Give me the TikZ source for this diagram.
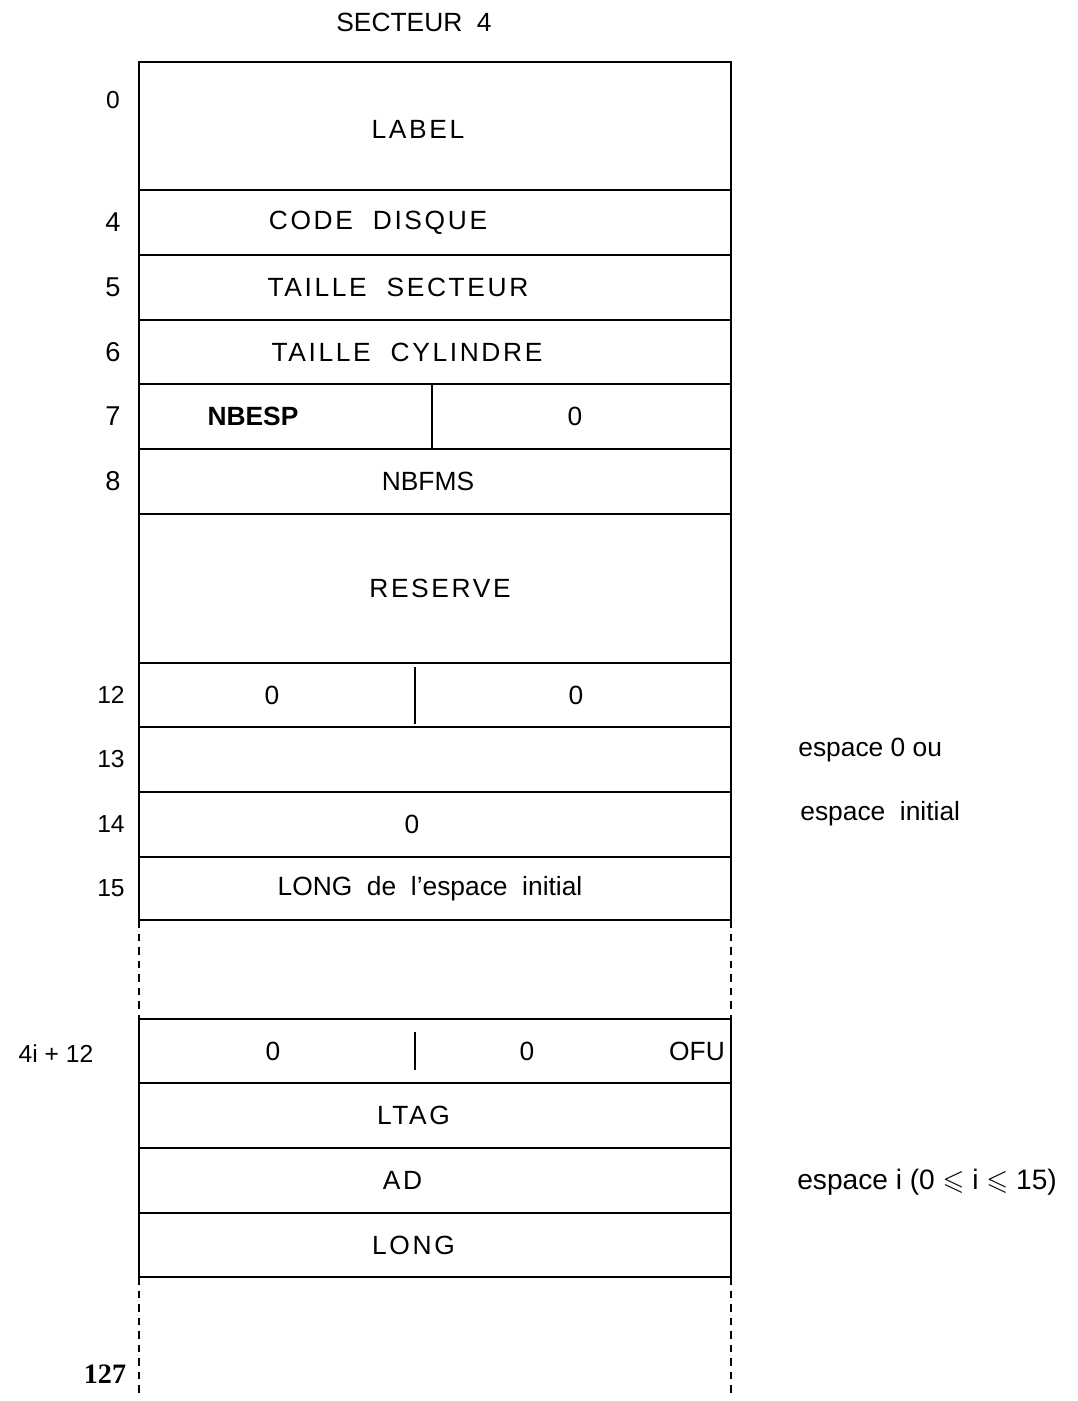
\documentclass[tikz,border=0pt]{standalone}
\usepackage{amssymb}
\usepackage{fontspec}
\setmainfont{Liberation Sans}
\newfontfamily\spacedsans[LetterSpace=10]{Liberation Sans}
\newfontfamily\addrserif{Liberation Serif}
\usepackage{tikz}
\usetikzlibrary{positioning}
\tikzset{
  cell/.style={
    rectangle, draw=black, line width=1.6pt,
    minimum width=11.84cm, minimum height=#1,
    inner sep=0pt, outer sep=0pt
  },
  cell/.default=1.30cm,
  field/.style={font=\fontsize{15}{18}\selectfont, inner sep=0pt},
  capsfield/.style={font=\fontsize{15}{18}\selectfont\spacedsans, inner sep=0pt},
  addr/.style={font=\fontsize{14}{17}\selectfont, inner sep=0pt},
  bigaddr/.style={font=\fontsize{15.5}{18}\selectfont, inner sep=0pt},
  side/.style={font=\fontsize{15}{18}\selectfont, inner sep=0pt, anchor=west},
  divider/.style={draw=black, line width=1pt},
  gapline/.style={draw=black, line width=1pt, dash pattern=on 0.15cm off 0.12cm},
}
\begin{document}
\begin{tikzpicture}
\useasboundingbox (0,0) rectangle (21.56,-28.02);

% words 0 to 15
\node[cell=2.56cm, anchor=north west] (label) at (2.78,-1.24) {};
\node[cell=1.30cm, below=0cm of label] (code) {};
\node[cell=1.30cm, below=0cm of code] (tsect) {};
\node[cell=1.28cm, below=0cm of tsect] (tcyl) {};
\node[cell=1.30cm, below=0cm of tcyl] (r7) {};
\node[cell=1.30cm, below=0cm of r7] (nbfms) {};
\node[cell=2.98cm, below=0cm of nbfms] (reserve) {};
\node[cell=1.28cm, below=0cm of reserve] (r12) {};
\node[cell=1.30cm, below=0cm of r12] (r13) {};
\node[cell=1.30cm, below=0cm of r13] (r14) {};
\node[cell=1.26cm, below=0cm of r14] (r15) {};

% one space entry
\node[cell=1.28cm, below=1.98cm of r15] (ofu) {};
\node[cell=1.30cm, below=0cm of ofu] (ltag) {};
\node[cell=1.30cm, below=0cm of ltag] (ad) {};
\node[cell=1.28cm, below=0cm of ad] (long) {};
\coordinate (endl) at ([yshift=-2.36cm]long.south west);
\coordinate (endr) at ([yshift=-2.36cm]long.south east);

% split cells
\draw[divider] ([xshift=5.86cm]r7.north west) -- ([xshift=5.86cm]r7.south west);
\draw[divider] ([xshift=5.52cm, yshift=-0.08cm]r12.north west) -- ([xshift=5.52cm, yshift=0.06cm]r12.south west);
\draw[divider] ([xshift=5.52cm, yshift=-0.26cm]ofu.north west) -- ([xshift=5.52cm, yshift=0.26cm]ofu.south west);

% gaps
\draw[gapline] (r15.south west) -- (ofu.north west);
\draw[gapline] (r15.south east) -- (ofu.north east);
\draw[gapline] (long.south west) -- (endl);
\draw[gapline] (long.south east) -- (endr);

% contents
\node[field] at ([xshift=-0.42cm, yshift=0.8cm]label.north) {SECTEUR~~4};
\node[capsfield] at ([xshift=-0.34cm, yshift=-0.06cm]label.center) {LABEL};
\node[capsfield] at ([xshift=-1.14cm]code.center) {CODE~~DISQUE};
\node[capsfield] at ([xshift=-0.74cm]tsect.center) {TAILLE~~SECTEUR};
\node[capsfield] at ([xshift=-0.56cm]tcyl.center) {TAILLE~~CYLINDRE};
\node[field, font=\fontsize{15}{18}\selectfont\bfseries] at ([xshift=2.28cm]r7.west) {NBESP};
\node[field] at ([xshift=8.72cm]r7.west) {0};
\node[field] at ([xshift=-0.14cm]nbfms.center) {NBFMS};
\node[capsfield] at ([xshift=0.1cm]reserve.center) {RESERVE};
\node[field] at ([xshift=2.66cm]r12.west) {0};
\node[field] at ([xshift=8.74cm]r12.west) {0};
\node[field] at ([xshift=-0.46cm]r14.center) {0};
\node[field] at ([xshift=-0.1cm]r15.center) {LONG~~de~~l'espace~~initial};
\node[field] at ([xshift=2.68cm]ofu.west) {0};
\node[field] at ([xshift=7.76cm]ofu.west) {0};
\node[field] at ([xshift=11.16cm]ofu.west) {OFU};
\node[capsfield] at ([xshift=-0.43cm]ltag.center) {LTAG};
\node[capsfield] at ([xshift=-0.65cm]ad.center) {AD};
\node[capsfield] at ([xshift=-0.43cm]long.center) {LONG};

% addresses
\node[addr] at ([xshift=-0.52cm, yshift=-0.76cm]label.north west) {0};
\node[bigaddr] at ([xshift=-0.52cm]code.west) {4};
\node[bigaddr] at ([xshift=-0.52cm]tsect.west) {5};
\node[bigaddr] at ([xshift=-0.52cm]tcyl.west) {6};
\node[bigaddr] at ([xshift=-0.52cm]r7.west) {7};
\node[bigaddr] at ([xshift=-0.52cm]nbfms.west) {8};
\node[addr] at ([xshift=-0.56cm]r12.west) {12};
\node[addr] at ([xshift=-0.56cm]r13.west) {13};
\node[addr] at ([xshift=-0.56cm]r14.west) {14};
\node[addr] at ([xshift=-0.56cm]r15.west) {15};
\node[addr] at ([xshift=-1.66cm, yshift=-0.06cm]ofu.west) {4i + 12};
\node[addr, font=\fontsize{16}{19}\selectfont\addrserif\bfseries] at ([xshift=-0.68cm, yshift=0.42cm]endl) {127};

% notes
\node[side] at ([xshift=1.34cm, yshift=0.19cm]r13.east) {espace 0 ou};
\node[side] at ([xshift=1.38cm, yshift=0.21cm]r14.east) {espace~~initial};
\node[side, font=\fontsize{16}{19}\selectfont] at ([xshift=1.32cm, yshift=-0.03cm]ad.east) {espace i (0 $\leqslant$ i $\leqslant$ 15)};
\end{tikzpicture}
\end{document}
